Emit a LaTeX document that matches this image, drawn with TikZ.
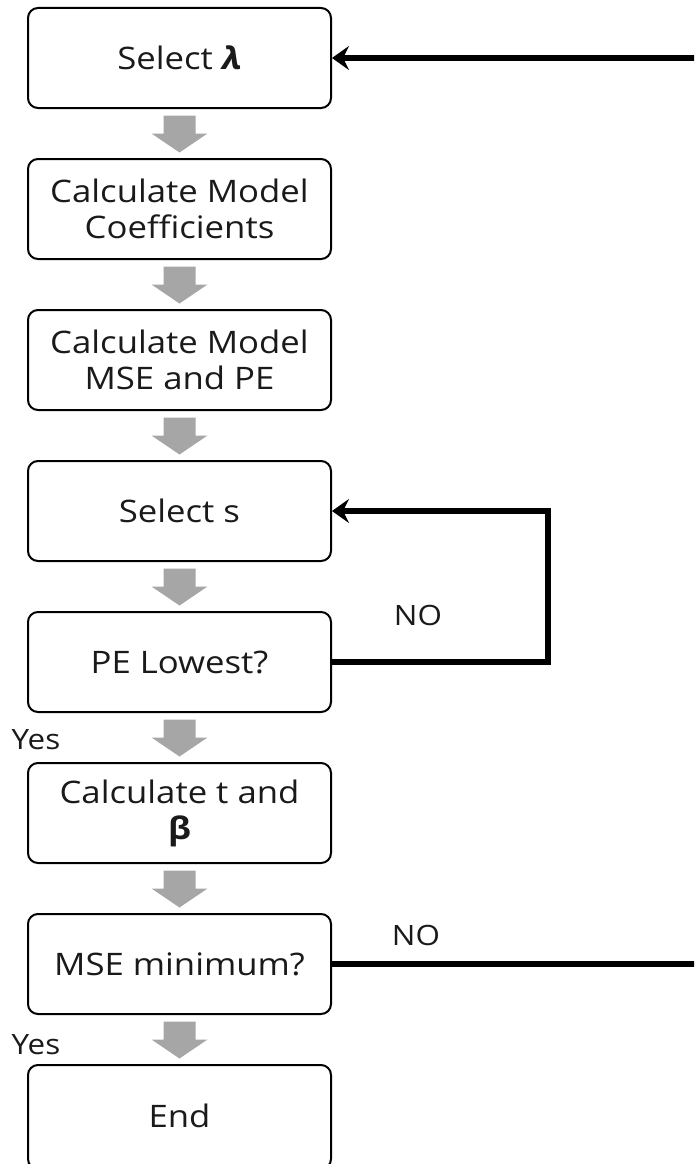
\documentclass[tikz,border=0pt]{standalone}
\usepackage{fontspec}
\setmainfont{Open Sans}[FakeStretch=1.12]
\usetikzlibrary{arrows.meta,calc}
\definecolor{arrowgray}{HTML}{A6A6A6}
\definecolor{ink}{HTML}{1A1A1A}
\tikzset{
  stepbox/.style={draw=black, line width=2pt, rounded corners=10pt, fill=white,
    minimum width=303pt, minimum height=100pt, align=center, inner sep=0pt,
    text=ink, font=\fontsize{31}{36}\selectfont},
  lbl/.style={font=\fontsize{28}{32}\selectfont, inner sep=0pt, text=ink},
  loopline/.style={draw=black, line width=6pt},
  looparrow/.style={loopline, -{Stealth[length=17pt, width=24pt, inset=6pt]}},
  gstep/.pic={\fill[arrowgray] (-16,-18) -- (16,-18) -- (16,0) -- (28,0)
      -- (0,19) -- (-28,0) -- (-16,0) -- cycle;}
}
\begin{document}
\begin{tikzpicture}[x=1pt, y=-1pt]
\useasboundingbox (0,0) rectangle (694,1164);
\clip (0,0) rectangle (694,1164);
\fill[white] (0,0) rectangle (694,1164);

% process steps
\node[stepbox] (b1) at (179.5,58)  {Select {\bfseries\itshape λ}};
\node[stepbox] (b2) at (179.5,209) {Calculate Model\\Coefficients};
\node[stepbox] (b3) at (179.5,360) {Calculate Model\\MSE and PE};
\node[stepbox] (b4) at (179.5,511) {Select s};
\node[stepbox] (b5) at (179.5,662) {PE Lowest?};
\node[stepbox] (b6) at (179.5,813) {Calculate t and\\{\bfseries β}};
\node[stepbox] (b7) at (179.5,964) {MSE minimum?};
\node[stepbox, minimum height=104pt] (b8) at (179.5,1117) {\raisebox{2pt}{End}};

% gray block arrows between consecutive steps
\foreach \a/\b in {b1/b2, b2/b3, b3/b4, b4/b5, b5/b6, b6/b7, b7/b8}
  \pic at ($(\a.south)!0.5!(\b.north)$) {gstep};

% inner loop: back to selecting s
\coordinate (kr) at (548,0);
\draw[looparrow] (b5.east) -- (b5.east -| kr) -- (b4.east -| kr) -- (b4.east);

% outer loop: back to selecting lambda
\coordinate (or) at (720,0);
\draw[looparrow] (b7.east) -- (b7.east -| or) -- (b1.east -| or) -- (b1.east);

% branch labels
\node[lbl] (no1) at (418,615) {NO};
\node[lbl] (no2) at (416,935) {NO};
\node[lbl] (yes1) at (36,740) {Yes};
\node[lbl] (yes2) at (36,1045) {Yes};
\end{tikzpicture}
\end{document}
